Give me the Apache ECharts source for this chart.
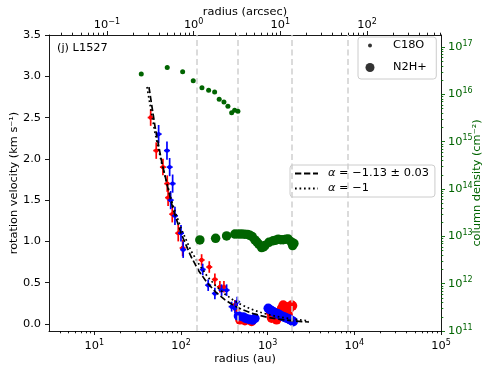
<!DOCTYPE html>
<html>
<head>
<meta charset="utf-8">
<script src="https://cdn.jsdelivr.net/npm/echarts@6/dist/echarts.min.js"></script>
<style>
html, body { margin: 0; padding: 0; background: #fff; }
#main { width: 490px; height: 368px; }
</style>
</head>
<body>
<div id="main"></div>
<script>
// rotation velocity from C18O (radius in au, velocity in km/s, error)
const c18oRedR = [44.7, 51.8, 61.9, 69.4, 71, 79.3, 93, 104.5, 173, 212, 246, 281, 313, 419, 438]
const c18oRedV = [2.50, 2.10, 1.90, 1.70, 1.53, 1.33, 1.10, 0.92, 0.775, 0.69, 0.54, 0.45, 0.45, 0.23, 0.17]
const c18oRedE = [0.10, 0.10, 0.10, 0.10, 0.10, 0.10, 0.10, 0.10, 0.07, 0.07, 0.07, 0.07, 0.07, 0.06, 0.06]

const c18oBlueR = [55.2, 68.9, 74, 80.1, 76, 85.2, 100, 106, 178, 206, 246, 294, 336, 384, 419, 445]
const c18oBlueV = [2.30, 2.10, 1.90, 1.70, 1.50, 1.31, 1.10, 0.90, 0.66, 0.47, 0.37, 0.41, 0.41, 0.21, 0.19, 0.27]
const c18oBlueE = [0.11, 0.11, 0.11, 0.11, 0.11, 0.11, 0.10, 0.10, 0.07, 0.07, 0.07, 0.07, 0.07, 0.06, 0.06, 0.06]

// rotation velocity from N2H+
const n2hRedR = [478, 547, 653, 1090, 1111, 1200, 1268, 1268, 1385, 1449, 1449, 1511, 1654, 1726, 1726, 1800, 1890, 1937]
const n2hRedV = [0.05, 0.04, 0.03, 0.13, 0.07, 0.10, 0.13, 0.05, 0.09, 0.19, 0.15, 0.23, 0.21, 0.17, 0.11, 0.19, 0.23, 0.22]

const n2hBlueR = [460, 523, 561, 608, 670, 713, 1015, 1060, 1111, 1160, 1213, 1270, 1324, 1385, 1449, 1510, 1581, 1650, 1726, 1790, 1855, 1910, 1972]
const n2hBlueV = [0.097, 0.085, 0.067, 0.057, 0.048, 0.069, 0.19, 0.175, 0.161, 0.148, 0.137, 0.128, 0.121, 0.108, 0.097, 0.088, 0.081, 0.072, 0.064, 0.056, 0.048, 0.040, 0.028]

// power-law fits
const fitR = [42.7, 50, 60, 80, 100, 130, 160, 200, 250, 320, 400, 500, 650, 800, 1000, 1300, 1600, 2000, 2500, 3000]
const fitV = [2.87, 2.40, 1.96, 1.41, 1.10, 0.82, 0.645, 0.50, 0.39, 0.295, 0.229, 0.178, 0.132, 0.105, 0.081, 0.060, 0.048, 0.037, 0.029, 0.024]
const keplerR = [40.5, 50, 60, 80, 100, 130, 160, 200, 250, 320, 400, 500, 650, 800, 1000, 1300, 1600, 2000, 2500, 3000]
const keplerV = [2.87, 2.32, 1.94, 1.45, 1.16, 0.89, 0.73, 0.58, 0.465, 0.363, 0.29, 0.232, 0.179, 0.145, 0.116, 0.089, 0.073, 0.058, 0.046, 0.039]

// column densities (cm^-2)
const c18oColR = [34.8, 69.4, 104.5, 138.5, 174.5, 208.4, 244.4, 276, 313, 348, 384, 416, 454]
const c18oColN = [2.7e16, 3.7e16, 3.0e16, 1.95e16, 1.38e16, 1.23e16, 1.12e16, 7.9e15, 6.9e15, 5.6e15, 4.1e15, 4.6e15, 4.4e15]
const n2hColR = [165, 251, 336, 419, 460, 501, 543, 587, 624, 663, 713, 752, 793, 852, 893, 930, 1034, 1159, 1240, 1324, 1416, 1511, 1624, 1726, 1855, 1941, 2009]
const n2hColN = [8.4e12, 9.1e12, 1.02e13, 1.12e13, 1.12e13, 1.12e13, 1.11e13, 1.1e13, 1.05e13, 9.9e12, 8.4e12, 7.6e12, 6.8e12, 5.8e12, 6.0e12, 6.4e12, 7.5e12, 8.1e12, 8.3e12, 8.7e12, 8.5e12, 8.5e12, 8.7e12, 8.8e12, 7.7e12, 6.4e12, 7.1e12]

// reference radii (dashed grey lines)
const refR = [153, 454, 1905, 8430]

const velTicks = [0, 0.5, 1.0, 1.5, 2.0, 2.5, 3.0, 3.5]

const DIST = 140   // pc, au per arcsec
const FONT = 'DejaVu Sans'
const FS = 11.35
const GREEN = '#006400'

const xMin = 3, xMax = 1e5
const nMin = 1e11, nMax = 1.8e17

// tick positions for the log axes (in log10 units)
const logTicks = (lo, hi) => {
    const major = [], minor = []
    for (let d = Math.floor(lo) - 1; d <= Math.ceil(hi); d++) {
        if (d >= lo - 1e-9 && d <= hi + 1e-9) major.push(d)
        for (let k = 2; k <= 9; k++) {
            const v = d + Math.log10(k)
            if (v > lo + 1e-6 && v < hi - 1e-6) minor.push(v)
        }
    }
    return { major, minor }
}
const bottomT = logTicks(Math.log10(xMin), Math.log10(xMax))
const topT = logTicks(Math.log10(xMin / DIST), Math.log10(xMax / DIST))
const rightT = logTicks(Math.log10(nMin), Math.log10(nMax))

const powLabel = (v) => {
    const l = Math.log10(v)
    const e = Math.round(l)
    if (Math.abs(l - e) > 1e-6) return ''
    return '{b|10}{s|' + String(e).replace('-', '\u2212') + '}'
}
const supRich = (color) => ({
    b: { fontSize: FS, fontFamily: FONT, color: color },
    s: { fontSize: 8, fontFamily: FONT, color: color, padding: [0, 0, 7, 0] }
})

const line = { onZero: false, lineStyle: { color: '#000', width: 0.9 } }
const tickAxis = (pos, lo, hi, values, len, color) => ({
    type: 'value', position: pos, min: lo, max: hi,
    axisLine: { show: false, onZero: false },
    axisLabel: { show: false },
    splitLine: { show: false },
    axisTick: { show: true, customValues: values, length: len, lineStyle: { color: color, width: 0.9 } }
})
const axisName = (color) => ({ fontFamily: FONT, fontSize: FS, color: color })

const fitName = 'α = \u22121.13 ± 0.03'
const keplerName = 'α = \u22121'

const errorBars = (name, rs, vs, es, color) => ({
    type: 'custom',
    name: name,
    xAxisIndex: 0,
    yAxisIndex: 0,
    z: 2,
    data: rs.map((r, i) => [r, vs[i], es[i]]),
    encode: { x: 0, y: 1 },
    renderItem: (params, api) => {
        const r = api.value(0), v = api.value(1), e = api.value(2)
        const c = api.coord([r, v])
        const lo = api.coord([r, v - e])
        const hi = api.coord([r, v + e])
        return {
            type: 'group',
            children: [
                { type: 'line', shape: { x1: c[0], y1: lo[1], x2: c[0], y2: hi[1] }, style: { stroke: color, lineWidth: 1.7 } },
                { type: 'line', shape: { x1: c[0] - 3, y1: c[1], x2: c[0] + 3, y2: c[1] }, style: { stroke: color, lineWidth: 1.7 } },
                { type: 'circle', shape: { cx: c[0], cy: c[1], r: 2.2 }, style: { fill: color } }
            ]
        }
    }
})

const pairs = (xs, ys) => xs.map((x, i) => [x, ys[i]])

const option = {
    animation: false,
    textStyle: { fontFamily: FONT },
    title: {
        text: '(j) L1527',
        left: 57, top: 43, padding: 0,
        textStyle: { fontFamily: FONT, fontSize: FS, fontWeight: 'normal', color: '#000' }
    },
    grid: { left: 49, right: 49, top: 35, bottom: 37, containLabel: false, outerBoundsMode: 'none' },
    legend: [
        {
            data: ['C18O'], orient: 'vertical', left: 358, top: 37,
            padding: [3, 12, 28, 10], itemWidth: 4, itemHeight: 4,
            selectedMode: false,
            backgroundColor: 'rgba(255,255,255,0.8)', borderColor: '#cccccc', borderWidth: 1, borderRadius: 3,
            textStyle: { fontFamily: FONT, fontSize: FS, color: '#000', padding: [0, 0, 0, 16] }
        },
        {
            data: ['N2H+'], orient: 'vertical', left: 365.5, top: 62,
            padding: 0, itemWidth: 9, itemHeight: 9,
            selectedMode: false,
            textStyle: { fontFamily: FONT, fontSize: FS, color: '#000', padding: [0, 0, 0, 13.5] }
        },
        {
            data: [fitName, keplerName], orient: 'vertical', left: 290, top: 165,
            padding: [3, 6, 3, 4], itemGap: 4, itemWidth: 23, itemHeight: 12,
            selectedMode: false,
            itemStyle: { opacity: 0 },
            backgroundColor: 'rgba(255,255,255,0.8)', borderColor: '#cccccc', borderWidth: 1, borderRadius: 3,
            formatter: (name) => name.replace('α', '{a|α}'),
            textStyle: {
                fontFamily: FONT, fontSize: FS, color: '#000', padding: [0, 0, 0, 5],
                rich: { a: { fontFamily: FONT, fontSize: FS, fontStyle: 'italic', color: '#000' } }
            }
        }
    ],
    xAxis: [
        {
            type: 'log', position: 'bottom', min: xMin, max: xMax,
            axisLine: line, axisTick: { show: false }, splitLine: { show: false },
            axisLabel: { formatter: powLabel, margin: 8, rich: supRich('#000') },
            name: 'radius (au)', nameLocation: 'middle', nameGap: 23, nameMoveOverlap: false,
            nameTextStyle: axisName('#000')
        },
        {
            type: 'log', position: 'top', min: xMin / DIST, max: xMax / DIST,
            axisLine: line, axisTick: { show: false }, splitLine: { show: false },
            axisLabel: { formatter: powLabel, margin: 2, rich: supRich('#000') },
            name: 'radius (arcsec)', nameLocation: 'middle', nameGap: 17, nameMoveOverlap: false,
            nameTextStyle: axisName('#000')
        },
        tickAxis('bottom', Math.log10(xMin), Math.log10(xMax), bottomT.major, 4, '#000'),
        tickAxis('bottom', Math.log10(xMin), Math.log10(xMax), bottomT.minor, 2.3, '#000'),
        tickAxis('top', Math.log10(xMin / DIST), Math.log10(xMax / DIST), topT.major, 4, '#000'),
        tickAxis('top', Math.log10(xMin / DIST), Math.log10(xMax / DIST), topT.minor, 2.3, '#000')
    ],
    yAxis: [
        {
            type: 'value', position: 'left', min: -0.085, max: 3.5,
            axisLine: line, splitLine: { show: false },
            axisTick: { customValues: velTicks, length: 4, lineStyle: { color: '#000', width: 0.9 } },
            axisLabel: {
                customValues: velTicks, margin: 8, formatter: (v) => v.toFixed(1),
                fontFamily: FONT, fontSize: FS, color: '#000'
            },
            name: 'rotation velocity (km s\u207b\u00b9)', nameLocation: 'middle', nameGap: 29, nameRotate: 90,
            nameMoveOverlap: false,
            nameTextStyle: axisName('#000')
        },
        {
            type: 'log', position: 'right', min: nMin, max: nMax,
            axisLine: line, axisTick: { show: false }, splitLine: { show: false },
            axisLabel: { formatter: powLabel, margin: 7, rich: supRich(GREEN) },
            name: 'column density (cm\u207b\u00b2)', nameLocation: 'middle', nameGap: 31, nameRotate: 90,
            nameMoveOverlap: false,
            nameTextStyle: axisName(GREEN)
        },
        tickAxis('right', Math.log10(nMin), Math.log10(nMax), rightT.major, 4, GREEN),
        tickAxis('right', Math.log10(nMin), Math.log10(nMax), rightT.minor, 2.3, GREEN)
    ],
    series: [
        // legend handles
        { type: 'scatter', name: 'C18O', data: [], symbol: 'circle', itemStyle: { color: '#000' } },
        { type: 'scatter', name: 'N2H+', data: [], symbol: 'circle', itemStyle: { color: '#000' } },
        {
            type: 'line', name: 'ref', data: [], xAxisIndex: 0, yAxisIndex: 0, z: 1,
            markLine: {
                silent: true, symbol: ['none', 'none'], label: { show: false },
                lineStyle: { color: '#d0d0d0', width: 1.5, type: [6, 3.5] },
                data: refR.map(r => ({ xAxis: r }))
            }
        },
        errorBars('C18O red', c18oRedR, c18oRedV, c18oRedE, '#ff0000'),
        errorBars('C18O blue', c18oBlueR, c18oBlueV, c18oBlueE, '#0000ff'),
        {
            type: 'scatter', name: 'N2H+ red', xAxisIndex: 0, yAxisIndex: 0, z: 3,
            data: pairs(n2hRedR, n2hRedV), symbolSize: 9.5, itemStyle: { color: '#ff0000', opacity: 1 }
        },
        {
            type: 'scatter', name: 'N2H+ blue', xAxisIndex: 0, yAxisIndex: 0, z: 3,
            data: pairs(n2hBlueR, n2hBlueV), symbolSize: 9.5, itemStyle: { color: '#0000ff', opacity: 1 }
        },
        {
            type: 'line', name: fitName, xAxisIndex: 0, yAxisIndex: 0, z: 4,
            data: pairs(fitR, fitV), symbol: 'none',
            lineStyle: { color: '#000', width: 1.7, type: [6.3, 2.7] }, itemStyle: { color: '#000', opacity: 0 }
        },
        {
            type: 'line', name: keplerName, xAxisIndex: 0, yAxisIndex: 0, z: 4,
            data: pairs(keplerR, keplerV), symbol: 'none',
            lineStyle: { color: '#000', width: 1.7, type: [1.7, 2.8] }, itemStyle: { color: '#000', opacity: 0 }
        },
        {
            type: 'scatter', name: 'C18O column', xAxisIndex: 0, yAxisIndex: 1, z: 5,
            data: pairs(c18oColR, c18oColN), symbolSize: 5, itemStyle: { color: GREEN, opacity: 1 }
        },
        {
            type: 'scatter', name: 'N2H+ column', xAxisIndex: 0, yAxisIndex: 1, z: 5,
            data: pairs(n2hColR, n2hColN), symbolSize: 9.5, itemStyle: { color: GREEN, opacity: 1 }
        }
    ]
}

const chart = echarts.init(document.getElementById('main'))
chart.setOption(option)
</script>
</body>
</html>
